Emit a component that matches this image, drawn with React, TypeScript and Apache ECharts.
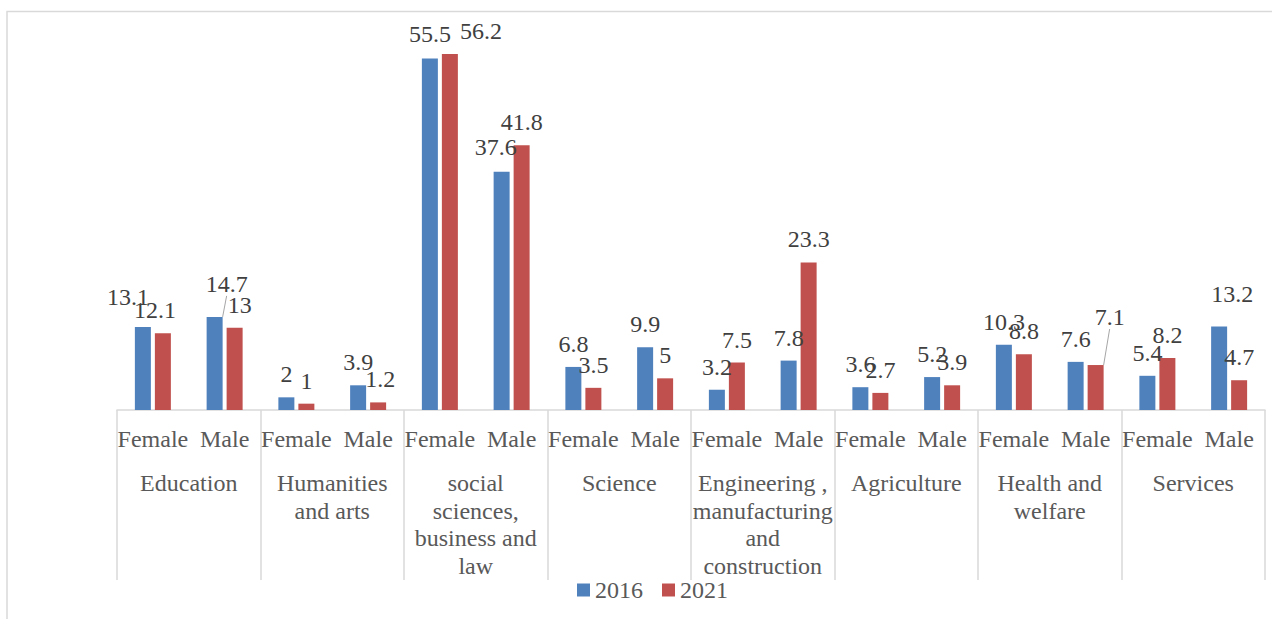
import React, { useEffect, useRef } from "react";
import * as echarts from "echarts";

const categories = [
  "Education",
  "Humanities\nand arts",
  "social\nsciences,\nbusiness and\nlaw",
  "Science",
  "Engineering ,\nmanufacturing\nand\nconstruction",
  "Agriculture",
  "Health and\nwelfare",
  "Services",
];
const genders = ["Female", "Male"];
const seriesNames = ["2016", "2021"];
const values2016 = [13.1, 14.7, 2, 3.9, 55.5, 37.6, 6.8, 9.9, 3.2, 7.8, 3.6, 5.2, 10.3, 7.6, 5.4, 13.2];
const values2021 = [12.1, 13, 1, 1.2, 56.2, 41.8, 3.5, 5, 7.5, 23.3, 2.7, 3.9, 8.8, 7.1, 8.2, 4.7];

// label nudges (style only), [dx, dy]
const nudge2016: number[][] = [[-15, -7], [12, -10], [0, 0], [0, 0], [0, -2], [-6, -2], [0, 0], [0, 0], [0, 0], [0, 0], [0, 0], [0, 0], [0, 0], [0, 0], [0, 0], [13, -9]];
const nudge2021: number[][] = [[-8, 0], [5, 0], [0, 0], [2, 0], [31, 0], [0, 0], [0, 0], [0, 0], [0, 0], [0, 0], [0, 0], [0, 0], [0, 0], [14, -25], [0, 0], [0, 0]];
const leader2016 = [1];
const leader2021 = [13];

const FONT = "Liberation Serif";

export default function App() {
  const ref = useRef<HTMLDivElement>(null);
  useEffect(() => {
    if (!ref.current) return;
    const chart = echarts.init(ref.current, null, { renderer: "svg" });
    const slotLabels = categories.flatMap(() => genders);
    const mkData = (vals: number[], leaders: number[]) =>
      vals.map((v, i) =>
        leaders.includes(i)
          ? { value: v, labelLine: { show: true, length: 0, lineStyle: { color: "#A6A6A6", width: 1 } } }
          : v
      );
    const mkSeries = (name: string, vals: number[], color: string, nudge: number[][], leaders: number[]) => ({
      name,
      type: "bar",
      xAxisIndex: 0,
      barWidth: 16,
      barGap: "25%",
      itemStyle: { color },
      data: mkData(vals, leaders),
      label: {
        show: true,
        position: "top",
        distance: 11,
        fontFamily: FONT,
        fontSize: 24,
        color: "#404040",
      },
      labelLine: { show: false },
      labelLayout: (p: any) => {
        const n = nudge[p.dataIndex] || [0, 0];
        return { dx: n[0], dy: n[1] };
      },
    });
    chart.setOption({
      animation: false,
      textStyle: { fontFamily: FONT },
      graphic: [
        {
          type: "rect",
          shape: { x: 7, y: 11.5, width: 1400, height: 800 },
          style: { fill: "none", stroke: "#D9D9D9", lineWidth: 1.5 },
          silent: true,
        },
      ],
      legend: {
        left: 572,
        top: 573,
        itemWidth: 13,
        itemHeight: 13,
        itemGap: 19,
        icon: "rect",
        textStyle: { fontFamily: FONT, fontSize: 24, color: "#595959" },
        data: seriesNames,
      },
      grid: { left: 117, right: 7, top: 30, bottom: 209 },
      xAxis: [
        {
          type: "category",
          data: slotLabels,
          position: "bottom",
          axisLine: { show: false },
          axisTick: { show: false },
          axisLabel: { interval: 0, margin: 17, fontFamily: FONT, fontSize: 24, color: "#595959" },
        },
        {
          type: "category",
          data: categories,
          position: "bottom",
          axisLine: { show: true, onZero: false, lineStyle: { color: "#D9D9D9", width: 1.5 } },
          axisTick: { show: true, interval: 0, length: 170, lineStyle: { color: "#D9D9D9", width: 1.5 } },
          axisLabel: {
            interval: 0,
            margin: 59,
            lineHeight: 27.7,
            fontFamily: FONT,
            fontSize: 24,
            color: "#595959",
          },
        },
      ],
      yAxis: { type: "value", min: 0, max: 60, show: false, splitLine: { show: false } },
      series: [
        mkSeries(seriesNames[0], values2016, "#4F81BD", nudge2016, leader2016),
        mkSeries(seriesNames[1], values2021, "#C0504D", nudge2021, leader2021),
      ],
    });
    return () => chart.dispose();
  }, []);
  return (
    <div
      ref={ref}
      style={{ position: "fixed", left: 0, top: 0, width: 1272, height: 619, background: "#fff" }}
    />
  );
}
